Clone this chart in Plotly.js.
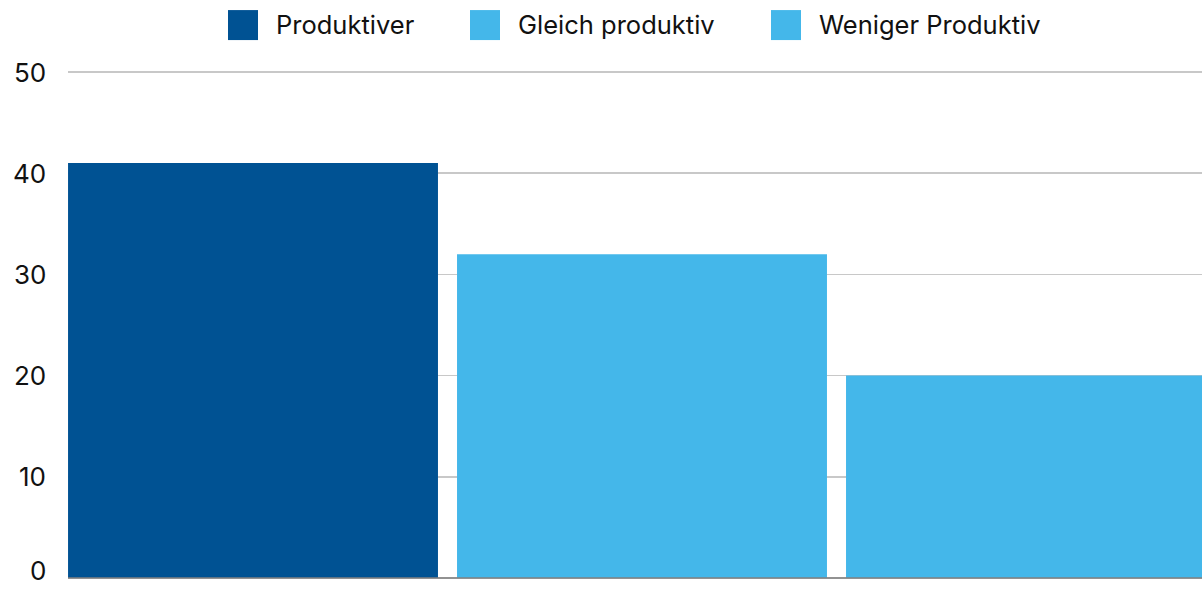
<!DOCTYPE html>
<html>
<head>
<meta charset="utf-8">
<script src="https://cdn.plot.ly/plotly-3.0.1.min.js"></script>
<style>html,body{margin:0;padding:0;background:#fff;}#chart{width:1202px;height:589px;}</style>
</head>
<body>
<div id="chart"></div>
<script>
// Data
const categories = ["Produktiver", "Gleich produktiv", "Weniger Produktiv"];
const values = [41, 32, 20];
const colors = ["#005293", "#44B7EA", "#44B7EA"];
const yTicks = [0, 10, 20, 30, 40, 50];

const W = 1202, H = 589;
const Y0PX = 578, Y50PX = 72;           // pixel positions of y=0 and y=50
const pxPerUnit = (Y0PX - Y50PX) / 50;
const pad = 0.5;                         // extra range so edge gridlines show
const M = {l: 68, r: 0, t: Y50PX - pad * pxPerUnit, b: H - Y0PX - pad * pxPerUnit};
const plotW = W - M.l - M.r, plotH = H - M.t - M.b;
const FONT = "Inter, 'Open Sans', sans-serif";
const TEXT = "#111111";
const FS = 26;

const traces = categories.map((c, i) => ({
  type: "bar",
  x: [c],
  y: [values[i]],
  name: c,
  width: 0.951,
  marker: {color: colors[i], line: {width: 0}},
  showlegend: false,
  hoverinfo: "x+y"
}));

// Custom legend (large swatches), positioned in pixels -> paper coords
const legendSwatchX = [228, 470, 771];
const legendY = 25, sw = 30;
const px = x => (x - M.l) / plotW;
const py = y => (H - M.b - y) / plotH;
const shapes = [], annotations = [];
categories.forEach((c, i) => {
  shapes.push({
    type: "rect", xref: "paper", yref: "paper",
    x0: px(legendSwatchX[i]), x1: px(legendSwatchX[i] + sw),
    y0: py(legendY + sw / 2), y1: py(legendY - sw / 2),
    fillcolor: colors[i], line: {width: 0}
  });
  annotations.push({
    xref: "paper", yref: "paper",
    x: px(legendSwatchX[i] + sw + 16), y: py(legendY - 1),
    xanchor: "left", yanchor: "middle",
    text: c, showarrow: false,
    font: {family: FONT, size: FS - 0.5, color: TEXT}
  });
});

// Y tick labels as annotations (the axis hides a label cut by the page edge)
yTicks.forEach(v => {
  const atBottom = v === yTicks[0];
  annotations.push({
    xref: "paper", yref: "y",
    x: 0, y: v, xshift: -20,
    xanchor: "right",
    yanchor: atBottom ? "bottom" : "middle",
    yshift: atBottom ? -(H - Y0PX) + 1 : 0,
    text: String(v), showarrow: false,
    font: {family: FONT, size: FS, color: TEXT}
  });
});

const layout = {
  width: W, height: H,
  margin: M,
  paper_bgcolor: "#ffffff",
  plot_bgcolor: "#ffffff",
  barmode: "overlay",
  showlegend: false,
  font: {family: FONT, size: FS, color: TEXT},
  xaxis: {
    type: "category",
    range: [-0.4756, 2.4396],
    showticklabels: false,
    showgrid: false,
    zeroline: false,
    showline: false,
    ticks: ""
  },
  yaxis: {
    range: [-pad, 50 + pad],
    tickvals: yTicks,
    showticklabels: false,
    showgrid: true,
    gridcolor: "#c8c8c8",
    gridwidth: 1.5,
    zeroline: false,
    showline: false,
    ticks: ""
  },
  shapes: shapes.concat([{
    type: "line", xref: "paper", yref: "y",
    x0: 0, x1: 1, y0: 0, y1: 0,
    line: {color: "#808080", width: 1.5}
  }]),
  annotations: annotations
};

Plotly.newPlot("chart", traces, layout, {staticPlot: true, displayModeBar: false});
</script>
</body>
</html>
